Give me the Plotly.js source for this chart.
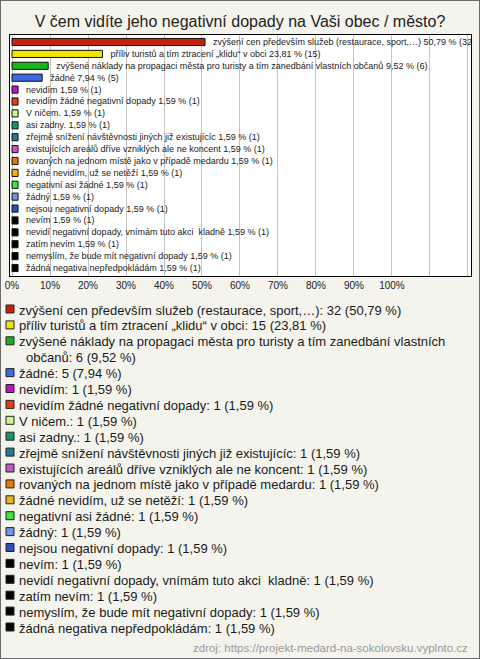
<!DOCTYPE html>
<html>
<head>
<meta charset="utf-8">
<script src="https://cdn.plot.ly/plotly-3.0.1.min.js"></script>
<style>
  html, body { margin: 0; padding: 0; background: #f4f4ec; }
  #wrap { width: 478px; height: 657px; border: 1px solid #6b6b6b; }
  #chart { width: 478px; height: 657px; }
</style>
</head>
<body>
<div id="wrap"><div id="chart"></div></div>
<script>
// ---- data ----
const categories = [
  "zvýšení cen především služeb (restaurace, sport,…)",
  "příliv turistů a tím ztracení „klidu“ v obci",
  "zvýšené náklady na propagaci města pro turisty a tím zanedbání vlastních občanů",
  "žádné",
  "nevidím",
  "nevidím žádné negativní dopady",
  "V ničem.",
  "asi zadny.",
  "zřejmě snížení návštěvnosti jiných již existujícíc",
  "existujících areálů dříve vzniklých ale ne koncent",
  "rovaných na jednom místě jako v případě medardu",
  "žádné nevidím, už se netěží",
  "negativní asi žádné",
  "žádný",
  "nejsou negativní dopady",
  "nevím",
  "nevidí negativní dopady, vnímám tuto akci  kladně",
  "zatím nevím",
  "nemyslím, že bude mít negativní dopady",
  "žádná negativa nepředpokládám"
];
const counts = [32, 15, 6, 5, 1, 1, 1, 1, 1, 1, 1, 1, 1, 1, 1, 1, 1, 1, 1, 1];
const percents = [50.79, 23.81, 9.52, 7.94, 1.59, 1.59, 1.59, 1.59, 1.59, 1.59,
                  1.59, 1.59, 1.59, 1.59, 1.59, 1.59, 1.59, 1.59, 1.59, 1.59];
const colors = [
  "#c8200f", "#f2e600", "#19b419", "#3f66e6", "#bb14c8",
  "#e0400f", "#c8f58c", "#14966a", "#1f7d96", "#c35ac3",
  "#e8780a", "#e6b414", "#3ce63c", "#6e96e6", "#2d50be",
  "#000000", "#000000", "#000000", "#000000", "#000000"
];
// legend text lines (the long one wraps to a second line)
const legendBreak = { 2: ["zvýšené náklady na propagaci města pro turisty a tím zanedbání vlastních", "občanů"] };
const xTickVals = [0, 10, 20, 30, 40, 50, 60, 70, 80, 90, 100, 110, 120];
const xTickText = ["0%", "10%", "20%", "30%", "40%", "50%", "60%", "70%", "80%", "90%", "100%", "", ""];
const titleText = "V čem vidíte jeho negativní dopady na Vaši obec / město?";
const sourceText = "zdroj: https://projekt-medard-na-sokolovsku.vyplnto.cz";

// ---- layout geometry (image px; the wrapper border adds 1px) ----
const W = 478, H = 657;
const M = { l: 9, r: 8, t: 34, b: 382 };
const pw = W - M.l - M.r, ph = H - M.t - M.b;
const px2x = px => ((px - 1) - M.l) / pw;
const py2y = py => (H - M.b - (py - 1)) / ph;

const fmt = v => v.toFixed(2).replace('.', ',');
const barText = categories.map((c, i) => c + " " + fmt(percents[i]) + " % (" + counts[i] + ")");

const bar = {
  type: 'bar',
  orientation: 'h',
  y: categories,
  x: percents,
  width: 0.6,
  marker: { color: colors, line: { color: '#111', width: 1 } },
  text: barText,
  texttemplate: '\u00a0\u00a0%{text}',
  textposition: 'outside',
  constraintext: 'none',
  cliponaxis: true,
  textfont: { family: 'Liberation Sans, Arial, sans-serif', size: 9, color: '#222' },
  hoverinfo: 'none',
  showlegend: false
};

// legend built from the same arrays
const annotations = [];
const shapes = [];
const lineStep = 15.9;
let line = 0;
categories.forEach((c, i) => {
  const yc = 310 + line * lineStep;
  const parts = legendBreak[i] ? legendBreak[i] : [c];
  const tail = ": " + counts[i] + " (" + fmt(percents[i]) + " %)";
  parts.forEach((p, k) => {
    const y = 310 + line * lineStep;
    annotations.push({
      xref: 'paper', yref: 'paper',
      x: px2x(k === 0 ? 17 : 24), y: py2y(y),
      xanchor: 'left', yanchor: 'middle',
      text: p + (k === parts.length - 1 ? tail : ""),
      showarrow: false,
      font: { family: 'Liberation Sans, Arial, sans-serif', size: 13, color: '#1a1a1a' }
    });
    line += 1;
  });
  shapes.push({
    type: 'rect', xref: 'paper', yref: 'paper',
    x0: px2x(6), x1: px2x(14), y0: py2y(yc + 3), y1: py2y(yc - 5),
    fillcolor: colors[i], line: { color: '#222', width: 1 }
  });
});
annotations.push({
  xref: 'paper', yref: 'paper', x: px2x(470), y: py2y(648),
  xanchor: 'right', yanchor: 'middle', showarrow: false,
  text: sourceText,
  font: { family: 'Liberation Sans, Arial, sans-serif', size: 11.5, color: '#999' }
});

const layout = {
  width: W, height: H,
  margin: M,
  paper_bgcolor: '#f4f4ec',
  plot_bgcolor: '#ffffff',
  title: {
    text: titleText,
    font: { family: 'Liberation Sans, Arial, sans-serif', size: 16, color: '#222' },
    x: 0.5, xanchor: 'center', y: 1 - 20 / H, yanchor: 'middle', xref: 'container', yref: 'container'
  },
  xaxis: {
    range: [-0.53, 120.8],
    tickvals: xTickVals, ticktext: xTickText,
    showgrid: true, gridcolor: '#c4c4c4', gridwidth: 1,
    zeroline: false,
    showline: true, linecolor: '#000', linewidth: 1, mirror: true,
    ticks: '',
    tickfont: { family: 'Liberation Sans, Arial, sans-serif', size: 10, color: '#222' },
    fixedrange: true
  },
  yaxis: {
    type: 'category',
    range: [19.67, -0.59],
    showticklabels: false, showgrid: false, zeroline: false,
    showline: true, linecolor: '#000', linewidth: 1, mirror: true,
    ticks: '', fixedrange: true
  },
  annotations: annotations,
  shapes: shapes,
  showlegend: false
};

Plotly.newPlot('chart', [bar], layout, { displayModeBar: false, staticPlot: true });
</script>
</body>
</html>
